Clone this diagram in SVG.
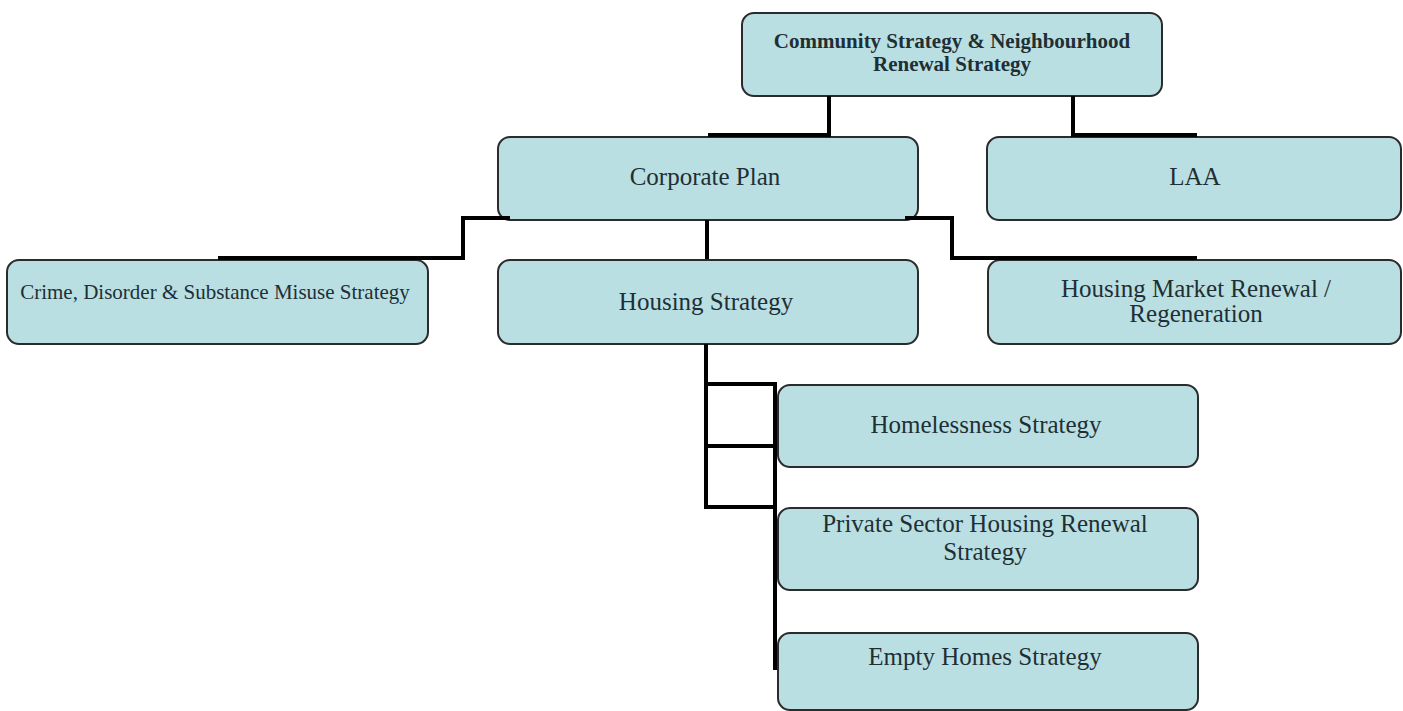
<svg xmlns="http://www.w3.org/2000/svg" width="1403" height="711" viewBox="0 0 1403 711">
<style>
.box{fill:#b9dfe3;stroke:#2b2b2b;stroke-width:2}
.t{font-family:"Liberation Serif","Times New Roman",serif;font-size:25px;fill:#1f2f34;text-anchor:middle}
.tb{font-family:"Liberation Serif","Times New Roman",serif;font-size:21px;font-weight:bold;fill:#1f2f34;text-anchor:middle}
.tc{font-family:"Liberation Serif","Times New Roman",serif;font-size:21px;fill:#1f2f34;text-anchor:middle}
.c{fill:none;stroke:#000;stroke-width:4}
</style>
<rect width="1403" height="711" fill="#fff"/>
<g id="community">
<rect class="box" x="742" y="13" width="420" height="83" rx="12"/>
<text class="tb" x="952" y="48">Community Strategy &amp; Neighbourhood</text>
<text class="tb" x="952" y="71">Renewal Strategy</text>
</g>
<g id="corporate">
<rect class="box" x="498" y="137" width="420" height="83" rx="12"/>
<text class="t" x="705" y="185">Corporate Plan</text>
</g>
<g id="laa">
<rect class="box" x="987" y="137" width="414" height="83" rx="12"/>
<text class="t" x="1195" y="185">LAA</text>
</g>
<g id="crime">
<rect class="box" x="7" y="260" width="421" height="84" rx="12"/>
<text class="tc" x="215" y="299">Crime, Disorder &amp; Substance Misuse Strategy</text>
</g>
<g id="housing">
<rect class="box" x="498" y="260" width="420" height="84" rx="12"/>
<text class="t" x="706" y="310">Housing Strategy</text>
</g>
<g id="hmr">
<rect class="box" x="988" y="260" width="413" height="84" rx="12"/>
<text class="t" x="1196" y="297">Housing Market Renewal /</text>
<text class="t" x="1196" y="322">Regeneration</text>
</g>
<g id="homelessness">
<rect class="box" x="778" y="385" width="420" height="82" rx="12"/>
<text class="t" x="986" y="433">Homelessness Strategy</text>
</g>
<g id="private">
<rect class="box" x="778" y="508" width="420" height="82" rx="12"/>
<text class="t" x="985" y="532">Private Sector Housing Renewal</text>
<text class="t" x="985" y="560">Strategy</text>
</g>
<g id="empty">
<rect class="box" x="778" y="633" width="420" height="77" rx="12"/>
<text class="t" x="985" y="665">Empty Homes Strategy</text>
</g>
<g id="connectors">
<path class="c" d="M829,96 V135 H708"/>
<path class="c" d="M1073,96 V135 H1197"/>
<path class="c" d="M707,220 V259"/>
<path class="c" d="M510,218 H463 V258 H218"/>
<path class="c" d="M905,218 H952 V258 H1197"/>
<path class="c" d="M706,344 V507 H775"/>
<path class="c" d="M706,384 H775"/>
<path class="c" d="M706,446 H775"/>
<path class="c" d="M775,382 V670"/>
</g>
</svg>
